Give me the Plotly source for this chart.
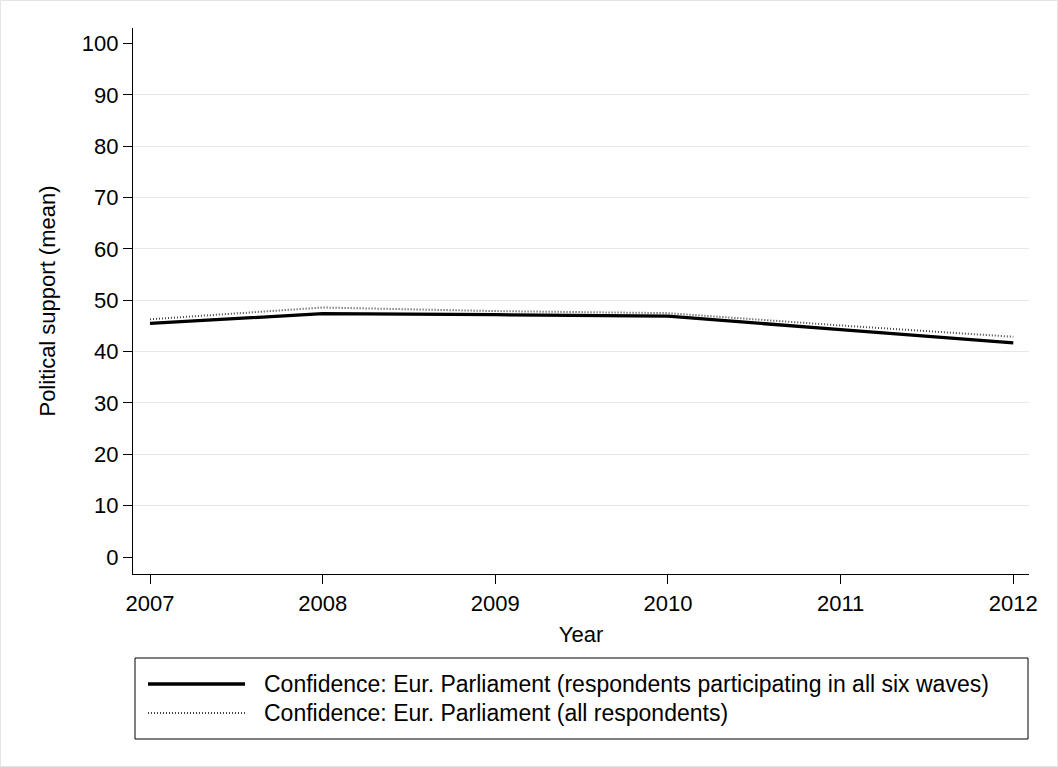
import plotly.graph_objects as go

years = [2007, 2008, 2009, 2010, 2011, 2012]
panel_six_waves = [45.5, 47.4, 47.2, 46.9, 44.3, 41.7]
all_respondents = [46.3, 48.6, 47.9, 47.5, 45.1, 42.9]
name_panel = "Confidence: Eur. Parliament (respondents participating in all six waves)"
name_all = "Confidence: Eur. Parliament (all respondents)"
y_ticks = [0, 10, 20, 30, 40, 50, 60, 70, 80, 90, 100]
grid_vals = [10, 20, 30, 40, 50, 60, 70, 80, 90]

FONT = "Liberation Sans, Arial, Helvetica, sans-serif"
FS = 22
FS_LEG = 23

fig = go.Figure()
fig.add_trace(go.Scatter(x=years, y=all_respondents, mode="lines", name=name_all,
                         line=dict(color="#444444", width=2, dash="1px,2px"), showlegend=False))
fig.add_trace(go.Scatter(x=years, y=panel_six_waves, mode="lines", name=name_panel,
                         line=dict(color="black", width=3.3), showlegend=False))

# paper-coordinate helpers (plot area: x 133..1029 px, y 28..574 px)
def px(x):
    return (x - 133) / 896.0

def py(y):
    return (574 - y) / 546.0

shapes = [
    dict(type="rect", xref="paper", yref="paper", x0=px(0.5), x1=px(1057.5), y0=py(766.5), y1=py(0.5),
         line=dict(color="#e4e4e4", width=1), fillcolor="rgba(0,0,0,0)", layer="below"),
    dict(type="rect", xref="paper", yref="paper", x0=px(135), x1=px(1028), y0=py(739), y1=py(658),
         line=dict(color="black", width=1), fillcolor="rgba(0,0,0,0)"),
    dict(type="line", xref="paper", yref="paper", x0=px(148), x1=px(245), y0=py(684), y1=py(684),
         line=dict(color="black", width=3.3)),
    dict(type="line", xref="paper", yref="paper", x0=px(148), x1=px(245), y0=py(713), y1=py(713),
         line=dict(color="#444444", width=2, dash="1px,2px")),
]
annotations = [
    dict(xref="paper", yref="paper", x=px(262), y=py(684), text=name_panel, showarrow=False,
         xanchor="left", yanchor="middle", font=dict(family=FONT, size=FS_LEG, color="black")),
    dict(xref="paper", yref="paper", x=px(262), y=py(713), text=name_all, showarrow=False,
         xanchor="left", yanchor="middle", font=dict(family=FONT, size=FS_LEG, color="black")),
]

fig.update_layout(
    width=1058, height=767,
    margin=dict(l=133, r=29, t=28, b=193, autoexpand=False),
    paper_bgcolor="white", plot_bgcolor="white",
    font=dict(family=FONT, size=FS, color="black"),
    shapes=shapes, annotations=annotations,
    showlegend=False,
    xaxis=dict(
        range=[2006.9015, 2012.091], tickmode="array", tickvals=years,
        ticktext=[str(y) for y in years],
        showline=True, linecolor="black", linewidth=1.3,
        ticks="outside", ticklen=9, tickwidth=1.3, tickcolor="black",
        showgrid=False, zeroline=False,
        title=dict(text="Year", standoff=12, font=dict(size=FS)),
        tickfont=dict(size=FS),
    ),
    yaxis=dict(
        range=[-3.31, 103.04], tickmode="array", tickvals=y_ticks,
        showline=True, linecolor="black", linewidth=1.3,
        ticks="outside", ticklen=9, tickwidth=1.3, tickcolor="black",
        showgrid=False, zeroline=False,
        minor=dict(tickmode="array", tickvals=grid_vals, showgrid=True,
                   gridcolor="#e8e8e8", gridwidth=1.4, ticks=""),
        title=dict(text="Political support (mean)", standoff=20, font=dict(size=FS)),
        tickfont=dict(size=FS),
    ),
)

fig.write_html("out.html", config={"displayModeBar": False},
               post_script="document.body.style.margin='0';")
